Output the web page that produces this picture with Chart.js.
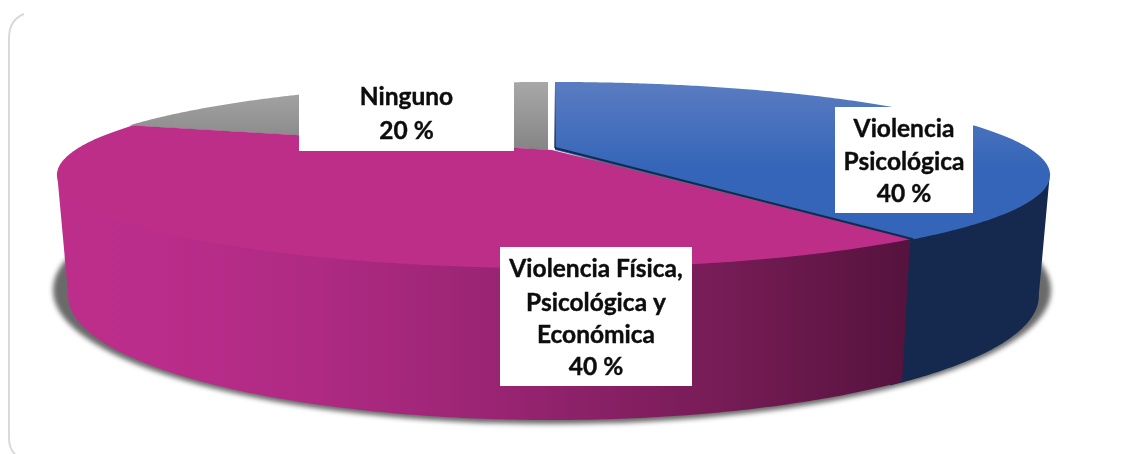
<!DOCTYPE html>
<html>
<head>
<meta charset="utf-8">
<title>Tipos de violencia</title>
<script src="https://cdn.jsdelivr.net/npm/chart.js@4"></script>
<style>
  html, body { margin: 0; padding: 0; background: #fff; }
  canvas { display: block; }
</style>
</head>
<body>
<canvas id="chart" width="1130" height="454"></canvas>
<script>
const categories = ['Violencia Psicológica', 'Violencia Física, Psicológica y Económica', 'Ninguno'];
const values = [40, 40, 20];
const labelLines = [
    ['Violencia', 'Psicológica', '40 %'],
    ['Violencia Física,', 'Psicológica y', 'Económica', '40 %'],
    ['Ninguno', '20 %']
];

// Label boxes: left, top, right, bottom, then the baseline of each line
const labelBoxes = [
    { box: [835, 107, 973, 213], lines: [129, 162, 194] },
    { box: [500, 247, 692, 386], lines: [269, 303, 335, 367] },
    { box: [299, 76, 514, 151], lines: [97, 131] }
];

// Small pull of each slice away from the centre
const sliceShift = [[3, 0], [0, 0], [-4, 0]];

// The pie is seen in perspective, so the centre is not the middle of the ellipse
const PERSPECTIVE = -0.269;
const topFace = { x: 552, y: 150, rx: 476.8, ry: 86.3 };
const bottomFace = { x: 552, y: 262.7, rx: 466, ry: 115 };

// Only this part of the side wall faces the viewer
const WALL_FROM = 105 * Math.PI / 180;
const WALL_TO = 255 * Math.PI / 180;
const WALL_OVERLAP = 2 * Math.PI / 180;

function project(face, theta, shift) {
    const u = Math.sin(theta);
    const v = -Math.cos(theta);
    const w = 1 + PERSPECTIVE * v;
    return [face.x + shift[0] + face.rx * u / w, face.y + shift[1] + face.ry * v / w];
}

function traceRim(ctx, face, from, to, shift, first) {
    const steps = Math.max(2, Math.ceil(Math.abs(to - from) / 0.01));
    for (let i = 0; i <= steps; i++) {
        const p = project(face, from + (to - from) * i / steps, shift);
        if (i === 0 && first) ctx.moveTo(p[0], p[1]);
        else ctx.lineTo(p[0], p[1]);
    }
}

function verticalGradient(ctx, y0, y1, stops) {
    const g = ctx.createLinearGradient(0, y0, 0, y1);
    stops.forEach(s => g.addColorStop(s[0], s[1]));
    return g;
}

function horizontalGradient(ctx, x0, x1, stops) {
    const g = ctx.createLinearGradient(x0, 0, x1, 0);
    stops.forEach(s => g.addColorStop(s[0], s[1]));
    return g;
}

/**
 * Draws the arcs computed by Chart.js as a 3D pie
 */
const pie3d = {
    id: 'pie3d',
    beforeDatasetsDraw(chart) {
        const ctx = chart.ctx;
        const arcs = chart.getDatasetMeta(0).data;
        const slices = arcs.map((arc, i) => ({
            from: arc.startAngle + Math.PI / 2,
            to: arc.endAngle + Math.PI / 2,
            shift: sliceShift[i]
        }));

        ctx.save();

        // frame of the card
        ctx.strokeStyle = '#d9d9d9';
        ctx.lineWidth = 2;
        ctx.beginPath();
        ctx.moveTo(24, 14);
        ctx.quadraticCurveTo(9, 20, 9, 38);
        ctx.lineTo(9, 438);
        ctx.quadraticCurveTo(9, 449, 15, 454);
        ctx.stroke();

        // shadow under the pie
        ctx.save();
        ctx.filter = 'blur(2.5px)';
        ctx.fillStyle = '#6a6a6a';
        ctx.beginPath();
        ctx.ellipse(552, 290, 499, 134, 0, 0, Math.PI * 2);
        ctx.fill();
        ctx.restore();

        // side walls, the blue one runs a little under the magenta one
        const blueWall = slices[0];
        const blueTo = blueWall.to + WALL_OVERLAP;
        ctx.fillStyle = '#14294d';
        ctx.beginPath();
        traceRim(ctx, topFace, Math.max(blueWall.from, WALL_FROM), blueTo, [blueWall.shift[0], blueWall.shift[1] - 2], true);
        traceRim(ctx, bottomFace, blueTo, Math.max(blueWall.from, WALL_FROM), blueWall.shift, false);
        ctx.closePath();
        ctx.fill();

        const magenta = slices[1];
        const magentaTo = Math.min(magenta.to, WALL_TO);
        ctx.fillStyle = horizontalGradient(ctx, 68, 905, [
            [0, '#bd2e8b'], [0.1, '#bb2d8a'], [0.3, '#ae2a83'], [0.49, '#9c2575'], [0.78, '#761c56'], [1, '#56133e']
        ]);
        ctx.beginPath();
        traceRim(ctx, topFace, magenta.from, magentaTo, [0, -2], true);
        traceRim(ctx, bottomFace, magentaTo, magenta.from, magenta.shift, false);
        ctx.closePath();
        ctx.fill();

        // top faces
        const faceFills = [
            verticalGradient(ctx, 82, 170, [[0, '#5a7cc1'], [1, '#3465b8']]),
            '#bd2e89',
            verticalGradient(ctx, 82, 150, [[0, '#a8a8a8'], [1, '#858585']])
        ];
        [2, 1, 0].forEach(i => {
            const s = slices[i];
            ctx.fillStyle = faceFills[i];
            ctx.beginPath();
            ctx.moveTo(topFace.x + s.shift[0], topFace.y + s.shift[1]);
            traceRim(ctx, topFace, s.from, s.to, s.shift, false);
            ctx.closePath();
            ctx.fill();
        });

        // dark bevel along the straight edges of the blue slice
        const blue = slices[0];
        const apex = [topFace.x + blue.shift[0], topFace.y + blue.shift[1] - 2];
        const tip = project(topFace, blue.to, blue.shift);
        ctx.lineWidth = 2;
        ctx.strokeStyle = '#14294d';
        ctx.beginPath();
        ctx.moveTo(apex[0], apex[1]);
        ctx.lineTo(tip[0], tip[1]);
        ctx.stroke();
        ctx.strokeStyle = verticalGradient(ctx, 82, 150, [[0, 'rgba(20,41,77,0)'], [1, '#14294d']]);
        ctx.lineWidth = 1.5;
        ctx.beginPath();
        ctx.moveTo(apex[0], 82);
        ctx.lineTo(apex[0], apex[1]);
        ctx.stroke();

        // label boxes
        ctx.font = 'bold 24.5px Lato';
        ctx.textAlign = 'center';
        ctx.textBaseline = 'middle';
        ctx.lineWidth = 0.4;
        ctx.strokeStyle = '#0d0d0d';
        labelBoxes.forEach((item, i) => {
            const b = item.box;
            ctx.fillStyle = '#ffffff';
            ctx.fillRect(b[0], b[1], b[2] - b[0], b[3] - b[1]);
            ctx.fillStyle = '#0d0d0d';
            labelLines[i].forEach((text, n) => {
                ctx.fillText(text, (b[0] + b[2]) / 2, item.lines[n]);
                ctx.strokeText(text, (b[0] + b[2]) / 2, item.lines[n]);
            });
        });

        ctx.restore();
        return false;
    }
};

new Chart(document.getElementById('chart'), {
    type: 'pie',
    data: {
        labels: categories,
        datasets: [{
            data: values,
            backgroundColor: ['#3465b8', '#bd2e89', '#969696'],
            borderWidth: 0
        }]
    },
    options: {
        responsive: false,
        animation: false,
        plugins: {
            legend: { display: false },
            tooltip: { enabled: false }
        }
    },
    plugins: [pie3d]
});
</script>
</body>
</html>
